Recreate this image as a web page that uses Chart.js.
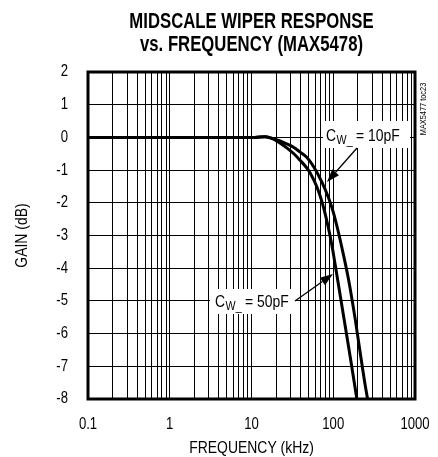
<!DOCTYPE html>
<html><head><meta charset="utf-8">
<script src="https://cdn.jsdelivr.net/npm/chart.js@4/dist/chart.umd.min.js"></script>
<style>html,body{margin:0;padding:0;background:#fff;}canvas{display:block;}</style>
</head><body>
<canvas id="c" width="438" height="457"></canvas>
<script>
// ---- data ----
const freq50 = [0.1, 1, 5, 11, 14.6, 18, 22, 27, 33, 39.3, 47, 52, 62.8, 72.4, 83.4, 96, 110.6, 132, 161, 194.5, 210];
const gain50 = [0, 0, 0, 0, 0.02, -0.04, -0.16, -0.32, -0.5, -0.70, -0.92, -1.08, -1.5, -1.95, -2.55, -3.28, -4.2, -5.38, -6.7, -8.0, -8.5];
const freq10 = [0.1, 1, 5, 11, 14.6, 18, 22, 27, 33, 39.3, 47, 57.1, 72.4, 87.3, 100.5, 115.6, 130.9, 153.4, 185.4, 213.4, 245.9, 269.8, 290];
const gain10 = [0, 0, 0, 0, 0.02, -0.03, -0.10, -0.20, -0.31, -0.45, -0.60, -0.88, -1.36, -1.84, -2.30, -2.90, -3.50, -4.33, -5.55, -6.58, -7.58, -8.15, -8.6];
const xTickLabels = [0.1, 1, 10, 100, 1000];
const yTickLabels = [2, 1, 0, -1, -2, -3, -4, -5, -6, -7, -8];
const titleLines = ['MIDSCALE WIPER RESPONSE', 'vs. FREQUENCY (MAX5478)'];
const seriesNames = ['CW_ = 10pF', 'CW_ = 50pF'];

const FONT = "'Liberation Sans', Arial, sans-serif";

// condensed text rendering (emulates the narrow typeface of the original)
const cv = document.getElementById('c');
const ctx0 = cv.getContext('2d');
const nativeFill = CanvasRenderingContext2D.prototype.fillText;
function condense(c) { return /bold/.test(c.font) ? 0.76 : 0.82; }
ctx0.fillText = function (t, x, y, mw) {
  const f = condense(this);
  this.save();
  this.translate(x, y);
  this.scale(f, 1);
  if (mw === undefined || mw === null) nativeFill.call(this, t, 0, 0);
  else nativeFill.call(this, t, 0, 0, mw / f);
  this.restore();
};

function pts(xs, ys) { return xs.map((x, i) => ({x: x, y: ys[i]})); }

const annotPlugin = {
  id: 'annot',
  afterDatasetsDraw(chart) {
    const ctx = chart.ctx, a = chart.chartArea;
    ctx.save();
    // frame
    ctx.strokeStyle = '#000';
    ctx.lineWidth = 3;
    ctx.strokeRect(a.left, a.top, a.right - a.left, a.bottom - a.top);

    function label(box, tx, ty, value) {
      ctx.fillStyle = '#fff';
      ctx.fillRect(box[0], box[1], box[2], box[3]);
      ctx.fillStyle = '#000';
      ctx.textBaseline = 'alphabetic';
      ctx.textAlign = 'left';
      ctx.font = '17px ' + FONT;
      ctx.fillText('C', tx, ty);
      const w = ctx.measureText('C').width * condense(ctx);
      ctx.font = '13px ' + FONT;
      ctx.fillText('W_', tx + w + 0.5, ty + 3);
      const w2 = ctx.measureText('W_').width * condense(ctx);
      ctx.font = '17px ' + FONT;
      ctx.fillText(' = ' + value, tx + w + w2, ty);
    }
    function arrow(x1, y1, x2, y2) {
      ctx.strokeStyle = '#000';
      ctx.fillStyle = '#000';
      ctx.lineWidth = 1.3;
      const ang = Math.atan2(y2 - y1, x2 - x1);
      const L = 13, H = 4.5;
      const bx = x2 - L * Math.cos(ang), by = y2 - L * Math.sin(ang);
      ctx.beginPath(); ctx.moveTo(x1, y1); ctx.lineTo(bx, by); ctx.stroke();
      ctx.beginPath();
      ctx.moveTo(x2, y2);
      ctx.lineTo(bx + H * Math.sin(ang), by - H * Math.cos(ang));
      ctx.lineTo(bx - H * Math.sin(ang), by + H * Math.cos(ang));
      ctx.closePath(); ctx.fill();
    }
    label([323, 121, 87, 27], 326, 141, '10pF');
    arrow(357, 148, 327, 182);
    label([210, 289, 85, 25], 215, 307, '50pF');
    arrow(295, 301, 333, 274);

    // side code
    ctx.save();
    ctx.translate(426, 109);
    ctx.rotate(-Math.PI / 2);
    ctx.font = '9px ' + FONT;
    ctx.fillStyle = '#000';
    ctx.textAlign = 'center';
    ctx.textBaseline = 'alphabetic';
    ctx.fillText('MAX5477 toc23', 0, 0);
    ctx.restore();
    ctx.restore();
  }
};

new Chart(cv, {
  type: 'line',
  data: {
    datasets: [
      {label: seriesNames[0], data: pts(freq10, gain10), borderColor: '#000', borderWidth: 3, pointRadius: 0, cubicInterpolationMode: 'monotone', fill: false},
      {label: seriesNames[1], data: pts(freq50, gain50), borderColor: '#000', borderWidth: 3, pointRadius: 0, cubicInterpolationMode: 'monotone', fill: false}
    ]
  },
  options: {
    responsive: false,
    devicePixelRatio: 1,
    animation: false,
    layout: {padding: {left: 0, right: 23, top: 0, bottom: 0}},
    plugins: {
      legend: {display: false},
      tooltip: {enabled: false},
      title: {
        display: true, fullSize: false, text: titleLines, color: '#000',
        font: {family: FONT, size: 22, weight: 'bold', lineHeight: 1.05},
        padding: {top: 10, bottom: 15.8}
      }
    },
    scales: {
      x: {
        type: 'logarithmic', min: 0.1, max: 1000,
        afterFit: s => { s.height = 58; s.paddingLeft = 0; s.paddingRight = 0; },
        afterBuildTicks: s => {
          const t = [];
          for (let d = 0.1; d < 999; d *= 10) {
            for (let m = 1; m <= 9; m++) t.push({value: Number((m * d).toPrecision(6))});
          }
          t.push({value: 1000});
          s.ticks = t;
        },
        grid: {color: '#000', lineWidth: 1, drawTicks: false},
        border: {display: false},
        ticks: {
          autoSkip: false, maxRotation: 0, padding: 16, color: '#000',
          font: {family: FONT, size: 16},
          callback: v => { const f = xTickLabels.find(l => Math.abs(l - v) < 1e-9 * Math.max(1, l)); return f === undefined ? '' : String(f); }
        },
        title: {display: true, text: 'FREQUENCY (kHz)', color: '#000', font: {family: FONT, size: 17, lineHeight: 1}, padding: {top: 0, bottom: 0}}
      },
      y: {
        type: 'linear', min: -8, max: 2,
        afterFit: s => { s.width = 88; s.paddingTop = 0; s.paddingBottom = 0; },
        afterBuildTicks: s => { s.ticks = yTickLabels.map(v => ({value: v})); },
        grid: {color: '#000', lineWidth: 1, drawTicks: false},
        border: {display: false},
        ticks: {padding: 20, color: '#000', font: {family: FONT, size: 16}, callback: v => String(v)},
        title: {display: true, text: 'GAIN (dB)', color: '#000', font: {family: FONT, size: 17, lineHeight: 1}, padding: {top: 14, bottom: 0}}
      }
    }
  },
  plugins: [annotPlugin]
});
</script>
</body></html>
